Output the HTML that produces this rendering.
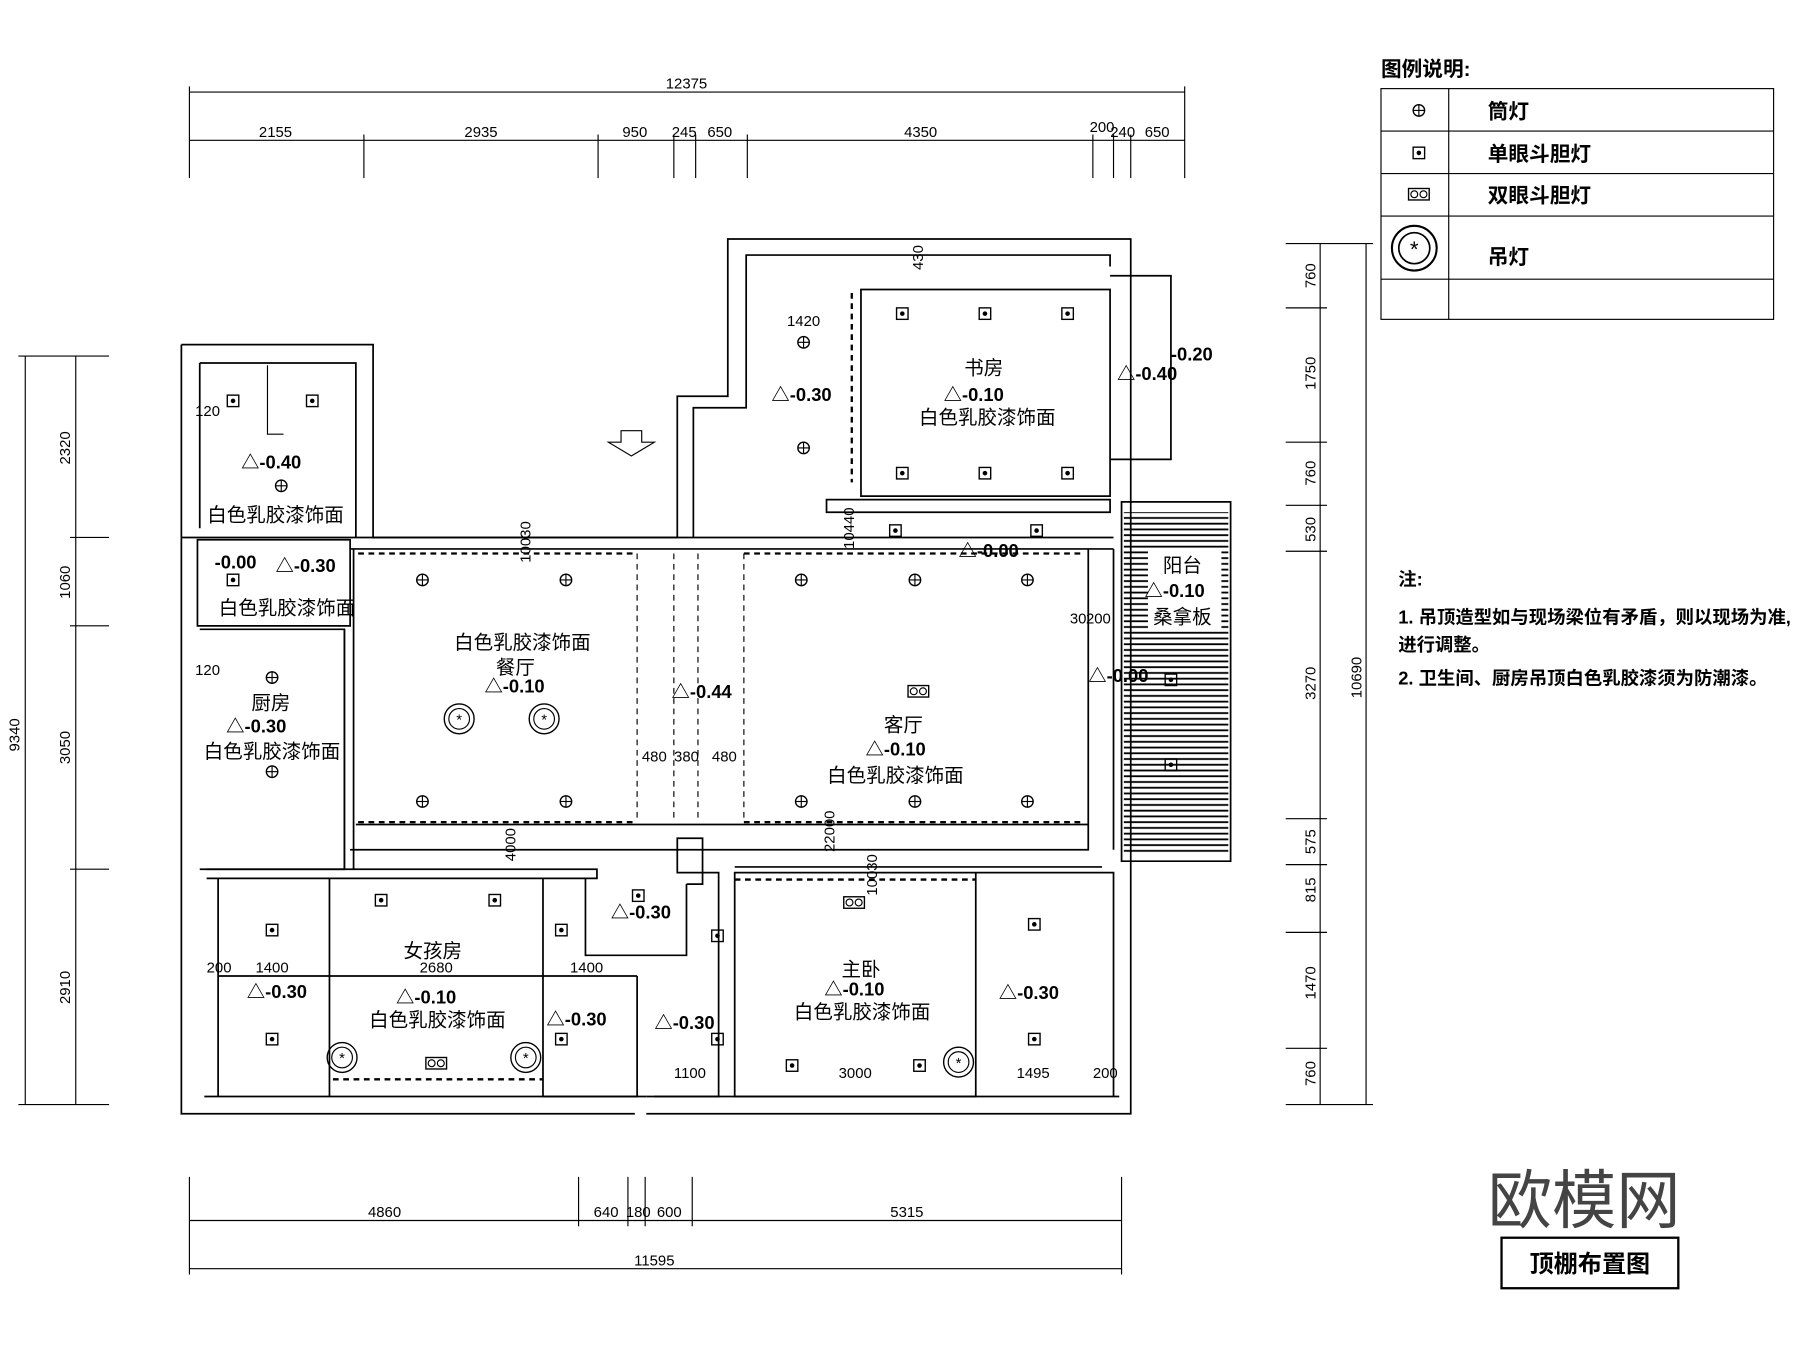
<!DOCTYPE html>
<html><head><meta charset="utf-8"><style>
html,body{margin:0;padding:0;background:#fff;}
svg{display:block;}
text{font-family:"Liberation Sans","Noto Sans CJK SC","DejaVu Sans",sans-serif;fill:#000;}
.d{font-size:13px;font-family:"Liberation Sans Narrow","Liberation Sans",sans-serif;}
.c{font-size:17px;}
.l{font-size:16px;font-weight:bold;}
</style></head><body>
<svg width="1800" height="1347" viewBox="0 0 1568 1173" xmlns="http://www.w3.org/2000/svg">
<defs>
<g id="dl"><circle r="5" fill="none" stroke="#000" stroke-width="1.2"/><line x1="-5" y1="0" x2="5" y2="0" stroke="#000"/><line x1="0" y1="-5" x2="0" y2="5" stroke="#000"/></g>
<g id="sq"><rect x="-5" y="-5" width="10" height="10" fill="none" stroke="#000" stroke-width="1.2"/><circle r="2" fill="#000"/></g>
<g id="db"><rect x="-9" y="-5" width="18" height="10" fill="none" stroke="#000" stroke-width="1.2"/><circle cx="-4" r="3" fill="none" stroke="#000"/><circle cx="4" r="3" fill="none" stroke="#000"/></g>
<g id="pd"><circle r="13" fill="none" stroke="#000" stroke-width="1.2"/><circle r="9" fill="none" stroke="#000"/><text x="0" y="5" text-anchor="middle" style="font-size:13px">*</text></g>
<pattern id="hat" width="6" height="5" patternUnits="userSpaceOnUse"><line x1="0" y1="1" x2="6" y2="1" stroke="#000" stroke-width="1.6"/></pattern>
</defs>
<rect width="1568" height="1173" fill="#fff"/>
<g stroke="#000" stroke-width="1" fill="none">
<line x1="165" y1="80" x2="1032" y2="80"/>
<line x1="165" y1="122" x2="1032" y2="122"/>
<path d="M165 75V155M317 117V155M521 117V155M587 117V155M606 117V155M651 117V155M952 117V155M970 117V155M985 117V155M1032 75V155"/>
<line x1="22" y1="310" x2="22" y2="962"/>
<line x1="66" y1="310" x2="66" y2="962"/>
<path d="M16 310H95M61 468H95M61 545H95M61 757H95M16 962H95"/>
<line x1="1190" y1="212" x2="1190" y2="962"/>
<line x1="1150" y1="212" x2="1150" y2="962"/>
<path d="M1120 212H1196M1120 268H1156M1120 385H1156M1120 440H1156M1120 480H1156M1120 713H1156M1120 753H1156M1120 812H1156M1120 913H1156M1120 962H1196"/>
<line x1="165" y1="1063" x2="977" y2="1063"/>
<line x1="165" y1="1105" x2="977" y2="1105"/>
<path d="M165 1025V1110M504 1025V1068M547 1025V1068M562 1025V1068M603 1025V1068M977 1025V1110"/>
<rect x="1203" y="77" width="342" height="201"/>
<path d="M1203 114H1545M1203 151H1545M1203 188H1545M1203 243H1545M1262 77V278"/>
<rect x="1308" y="1078" width="154" height="44" stroke-width="2"/>
</g>
<g stroke="#000" stroke-width="1.5" fill="none">
<path d="M158 300H325V468H590V345H634V208H985V440"/>
<path d="M174 316H310V468M174 316V460"/>
<path d="M604 468V355H650V222H967V232"/>
<path d="M158 300V970H553M563 970H985V440"/>
<path d="M172 470H305V545H172Z"/>
<path d="M158 468H590M590 468H970M305 478H970"/>
<path d="M174 548H300V757H174"/>
<path d="M308 478V757M300 548V757"/>
<path d="M310 718H948V740H305M948 478V740M970 478V740"/>
<path d="M720 435H967V446H720Z"/>
<path d="M750 252H967V432H750Z"/>
<path d="M180 757H520V765H180M190 765V955M287 765V955M473 765V955M190 850H555M473 955H555V850"/>
<path d="M510 765V832H598V770M598 770H612V730H590V760H626V955H563"/>
<path d="M640 760H850V955H640Z M850 760H970V955M640 755H960"/>
<path d="M178 955H563M570 955H975"/>
<path d="M977 437H1072V750H977Z"/>
<path d="M967 240H1020V400H967"/>
<path d="M541 375H559V385H570L550 397L530 385H541Z" stroke-width="1"/>
<path d="M233 318V378H247" stroke-width="1"/>
</g>
<rect x="979" y="446" width="91" height="298" fill="url(#hat)"/>
<rect x="1000" y="478" width="64" height="72" fill="#fff"/>
<g stroke="#000" stroke-width="2" stroke-dasharray="5,4" fill="none">
<path d="M312 482H555M648 482H945M312 716H555M648 716H945M742 255V420M290 940H473M640 766H850"/>
</g>
<g stroke="#000" stroke-width="1" stroke-dasharray="5,4" fill="none">
<path d="M555 482V716M587 482V716M608 482V716M648 482V716"/>
</g>
<use href="#dl" x="245" y="423"/><use href="#dl" x="237" y="590"/><use href="#dl" x="237" y="672"/>
<use href="#dl" x="368" y="505"/><use href="#dl" x="493" y="505"/><use href="#dl" x="368" y="698"/><use href="#dl" x="493" y="698"/>
<use href="#dl" x="698" y="505"/><use href="#dl" x="797" y="505"/><use href="#dl" x="895" y="505"/>
<use href="#dl" x="698" y="698"/><use href="#dl" x="797" y="698"/><use href="#dl" x="895" y="698"/>
<use href="#dl" x="700" y="298"/><use href="#dl" x="700" y="390"/>
<use href="#sq" x="203" y="349"/><use href="#sq" x="272" y="349"/><use href="#sq" x="203" y="505"/>
<use href="#sq" x="786" y="273"/><use href="#sq" x="858" y="273"/><use href="#sq" x="930" y="273"/>
<use href="#sq" x="786" y="412"/><use href="#sq" x="858" y="412"/><use href="#sq" x="930" y="412"/>
<use href="#sq" x="780" y="462"/><use href="#sq" x="903" y="462"/>
<use href="#sq" x="237" y="810"/><use href="#sq" x="237" y="905"/><use href="#sq" x="332" y="784"/><use href="#sq" x="431" y="784"/>
<use href="#sq" x="489" y="810"/><use href="#sq" x="489" y="905"/><use href="#sq" x="556" y="780"/><use href="#sq" x="625" y="815"/><use href="#sq" x="625" y="905"/>
<use href="#sq" x="901" y="805"/><use href="#sq" x="901" y="905"/><use href="#sq" x="690" y="928"/><use href="#sq" x="801" y="928"/>
<use href="#sq" x="1020" y="592"/><use href="#sq" x="1020" y="666"/>
<use href="#db" x="800" y="602"/><use href="#db" x="744" y="786"/><use href="#db" x="380" y="926"/>
<use href="#pd" x="400" y="626"/><use href="#pd" x="474" y="626"/><use href="#pd" x="298" y="921"/><use href="#pd" x="458" y="921"/><use href="#pd" x="835" y="925"/>
<use href="#dl" x="1236" y="96"/><use href="#sq" x="1236" y="133"/><use href="#db" x="1236" y="169"/>
<g transform="translate(1232,216) scale(1.5)"><use href="#pd"/></g>
<g class="d">
<text x="598" y="77" text-anchor="middle">12375</text>
<text x="240" y="119" text-anchor="middle">2155</text><text x="419" y="119" text-anchor="middle">2935</text>
<text x="553" y="119" text-anchor="middle">950</text><text x="596" y="119" text-anchor="middle">245</text>
<text x="627" y="119" text-anchor="middle">650</text><text x="802" y="119" text-anchor="middle">4350</text>
<text x="960" y="115" text-anchor="middle">200</text><text x="978" y="119" text-anchor="middle">240</text><text x="1008" y="119" text-anchor="middle">650</text>
<text transform="translate(17,640) rotate(-90)" text-anchor="middle">9340</text>
<text transform="translate(61,390) rotate(-90)" text-anchor="middle">2320</text>
<text transform="translate(61,507) rotate(-90)" text-anchor="middle">1060</text>
<text transform="translate(61,651) rotate(-90)" text-anchor="middle">3050</text>
<text transform="translate(61,860) rotate(-90)" text-anchor="middle">2910</text>
<text transform="translate(1186,590) rotate(-90)" text-anchor="middle">10690</text>
<text transform="translate(1146,240) rotate(-90)" text-anchor="middle">760</text>
<text transform="translate(1146,325) rotate(-90)" text-anchor="middle">1750</text>
<text transform="translate(1146,412) rotate(-90)" text-anchor="middle">760</text>
<text transform="translate(1146,461) rotate(-90)" text-anchor="middle">530</text>
<text transform="translate(1146,595) rotate(-90)" text-anchor="middle">3270</text>
<text transform="translate(1146,733) rotate(-90)" text-anchor="middle">575</text>
<text transform="translate(1146,775) rotate(-90)" text-anchor="middle">815</text>
<text transform="translate(1146,856) rotate(-90)" text-anchor="middle">1470</text>
<text transform="translate(1146,935) rotate(-90)" text-anchor="middle">760</text>
<text x="335" y="1060" text-anchor="middle">4860</text><text x="528" y="1060" text-anchor="middle">640</text>
<text x="556" y="1060" text-anchor="middle">180</text><text x="583" y="1060" text-anchor="middle">600</text>
<text x="790" y="1060" text-anchor="middle">5315</text><text x="570" y="1102" text-anchor="middle">11595</text>
<text x="700" y="284" text-anchor="middle">1420</text>
<text x="570" y="663" text-anchor="middle">480</text><text x="598" y="663" text-anchor="middle">380</text><text x="631" y="663" text-anchor="middle">480</text>
<text x="237" y="847" text-anchor="middle">1400</text><text x="380" y="847" text-anchor="middle">2680</text><text x="511" y="847" text-anchor="middle">1400</text>
<text x="180" y="847">200</text><text x="601" y="939" text-anchor="middle">1100</text><text x="745" y="939" text-anchor="middle">3000</text><text x="900" y="939" text-anchor="middle">1495</text><text x="952" y="939">200</text>
<text x="170" y="362">120</text><text x="170" y="588">120</text><text x="932" y="543">30</text><text x="946" y="543">200</text>
<text transform="translate(804,235) rotate(-90)">430</text>
<text transform="translate(744,478) rotate(-90)">10440</text>
<text transform="translate(462,490) rotate(-90)">10030</text>
<text transform="translate(449,750) rotate(-90)">4000</text>
<text transform="translate(727,742) rotate(-90)">22000</text>
<text transform="translate(764,780) rotate(-90)">10030</text>
</g>
<g class="c" text-anchor="middle">
<text x="240" y="454">白色乳胶漆饰面</text>
<text x="250" y="535">白色乳胶漆饰面</text>
<text x="455" y="565">白色乳胶漆饰面</text><text x="449" y="587">餐厅</text>
<text x="236" y="618">厨房</text><text x="237" y="660">白色乳胶漆饰面</text>
<text x="857" y="326">书房</text><text x="860" y="369">白色乳胶漆饰面</text>
<text x="787" y="637">客厅</text><text x="780" y="681">白色乳胶漆饰面</text>
<text x="377" y="834">女孩房</text><text x="381" y="894">白色乳胶漆饰面</text>
<text x="750" y="850">主卧</text><text x="751" y="887">白色乳胶漆饰面</text>
<text x="1030" y="498">阳台</text><text x="1030" y="543">桑拿板</text>
</g>
<g class="l">
<text x="210" y="408">△-0.40</text><text x="187" y="495">-0.00</text><text x="240" y="498">△-0.30</text>
<text x="422" y="603">△-0.10</text><text x="197" y="638">△-0.30</text>
<text x="672" y="349">△-0.30</text><text x="822" y="349">△-0.10</text>
<text x="1020" y="314">-0.20</text><text x="973" y="331">△-0.40</text>
<text x="835" y="485">△-0.00</text><text x="997" y="520">△-0.10</text><text x="948" y="594">△-0.00</text>
<text x="585" y="608">△-0.44</text><text x="754" y="658">△-0.10</text>
<text x="532" y="800">△-0.30</text><text x="215" y="869">△-0.30</text><text x="345" y="874">△-0.10</text>
<text x="476" y="893">△-0.30</text><text x="570" y="896">△-0.30</text><text x="718" y="867">△-0.10</text><text x="870" y="870">△-0.30</text>
</g>
<g style="font-size:18px;font-weight:bold">
<text x="1203" y="66">图例说明:</text>
<text x="1296" y="103">筒灯</text><text x="1296" y="140">单眼斗胆灯</text><text x="1296" y="176">双眼斗胆灯</text><text x="1296" y="230">吊灯</text>
</g>
<g style="font-size:16px;font-weight:bold">
<text x="1218" y="510">注:</text>
<text x="1218" y="543">1. 吊顶造型如与现场梁位有矛盾，则以现场为准,</text>
<text x="1218" y="567">进行调整。</text>
<text x="1218" y="596">2. 卫生间、厨房吊顶白色乳胶漆须为防潮漆。</text>
</g>
<text x="1380" y="1065" text-anchor="middle" style="font-size:56px;fill:#444">欧模网</text>
<text x="1385" y="1108" text-anchor="middle" style="font-size:21px;font-weight:bold">顶棚布置图</text>
</svg>
</body></html>
